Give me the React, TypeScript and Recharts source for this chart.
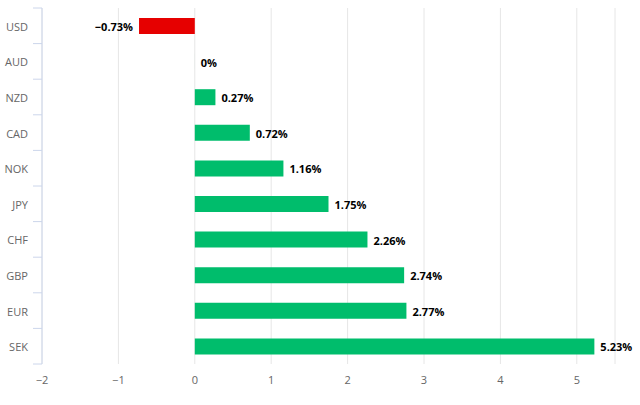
import { BarChart, Bar, XAxis, YAxis, CartesianGrid, Cell, LabelList } from 'recharts';

const currencies = ['USD', 'AUD', 'NZD', 'CAD', 'NOK', 'JPY', 'CHF', 'GBP', 'EUR', 'SEK'];
const changes = [-0.73, 0, 0.27, 0.72, 1.16, 1.75, 2.26, 2.74, 2.77, 5.23];
const xTicks = [-2, -1, 0, 1, 2, 3, 4, 5];

const data = currencies.map((c, i) => ({ name: c, value: changes[i] }));

const FONT = '"Open Sans", "DejaVu Sans", sans-serif';
const fmt = (v: number) => (v < 0 ? '\u2212' + Math.abs(v) : String(v));

// x here is where recharts puts the tick text (axis line minus tickSize + margin)
function CurrencyTick({ x, y, payload, index, visibleTicksCount }: any) {
  const step = 35.6;
  const axisX = x + 8;
  return (
    <g>
      <line x1={axisX - 9} x2={axisX} y1={y - step / 2} y2={y - step / 2} stroke="#ccd6eb" />
      {index === visibleTicksCount - 1 && (
        <line x1={axisX - 9} x2={axisX} y1={y + step / 2} y2={y + step / 2} stroke="#ccd6eb" />
      )}
      <text x={axisX - 14} y={y} dy={5} textAnchor="end" fill="#666666" fontSize={11} fontFamily={FONT}>
        {payload.value}
      </text>
    </g>
  );
}

function ValueLabel({ x, y, width, height, value }: any) {
  const end = x + width;
  const neg = value < 0;
  return (
    <text
      x={neg ? end - 6 : end + 6}
      y={y + height / 2}
      dy={5}
      textAnchor={neg ? 'end' : 'start'}
      fontSize={11}
      fontWeight="bold"
      fill="#000000"
      fontFamily={FONT}
    >
      {fmt(value) + '%'}
    </text>
  );
}

export default function App() {
  return (
    <div style={{ position: 'absolute', left: 0, top: 0, width: 640, height: 405, background: '#fff' }}>
      <BarChart
        width={640}
        height={405}
        data={data}
        layout="vertical"
        margin={{ top: 8, right: 25, left: 0, bottom: 16 }}
        barCategoryGap={0}
      >
        <CartesianGrid horizontal={false} stroke="#e6e6e6" />
        <XAxis
          type="number"
          domain={[-2, 5.5]}
          ticks={xTicks}
          allowDataOverflow
          axisLine={false}
          tickLine={false}
          tickFormatter={fmt}
          tick={{ fill: '#666666', fontSize: 11, fontFamily: FONT }}
          height={25}
          tickMargin={6}
        />
        <YAxis
          type="category"
          dataKey="name"
          width={42}
          axisLine={{ stroke: '#ccd6eb' }}
          tickLine={false}
          tick={<CurrencyTick />}
          interval={0}
        />
        <Bar dataKey="value" barSize={16} minPointSize={0.01} isAnimationActive={false}>
          {data.map((d) => (
            <Cell key={d.name} fill={d.value < 0 ? '#e60000' : '#00bd6c'} />
          ))}
          <LabelList dataKey="value" content={<ValueLabel />} />
        </Bar>
      </BarChart>
    </div>
  );
}
